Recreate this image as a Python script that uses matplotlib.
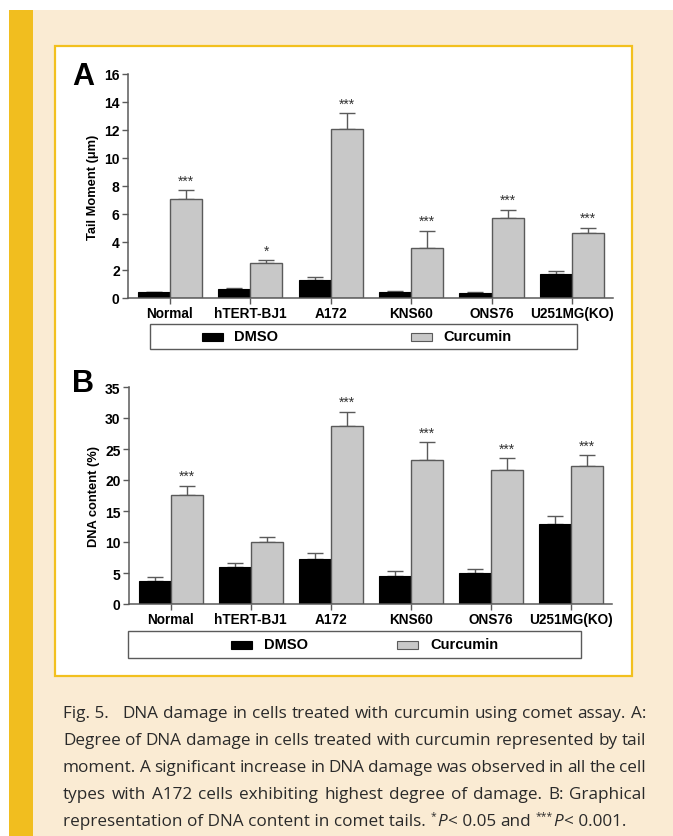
import matplotlib
matplotlib.use("Agg")
import matplotlib.pyplot as plt
from matplotlib.patches import Rectangle
import numpy as np

# data
cells = ["Normal", "hTERT-BJ1", "A172", "KNS60", "ONS76", "U251MG(KO)"]

tail_dmso = [0.4, 0.65, 1.3, 0.42, 0.38, 1.72]
tail_dmso_err = [0.05, 0.06, 0.2, 0.05, 0.06, 0.22]
tail_curc = [7.1, 2.5, 12.1, 3.55, 5.75, 4.65]
tail_curc_err = [0.6, 0.2, 1.1, 1.25, 0.55, 0.35]
tail_stars = ["***", "*", "***", "***", "***", "***"]

dna_dmso = [3.75, 6.0, 7.2, 4.5, 4.95, 12.85]
dna_dmso_err = [0.55, 0.65, 0.95, 0.75, 0.75, 1.4]
dna_curc = [17.6, 10.0, 28.65, 23.3, 21.65, 22.3]
dna_curc_err = [1.45, 0.85, 2.35, 2.8, 1.85, 1.7]
dna_stars = ["***", "", "***", "***", "***", "***"]

W, H = 673, 837
plt.rcParams['font.family'] = ['Liberation Sans', 'DejaVu Sans']
fig = plt.figure(figsize=(W / 100, H / 100), dpi=100, facecolor="white")


def fx(px):
    return px / W


def fy(py):
    return 1 - py / H


def frect(x0, y0, x1, y1, **kw):
    r = Rectangle((fx(x0), fy(y1)), fx(x1) - fx(x0), fy(y0) - fy(y1),
                  transform=fig.transFigure, **kw)
    fig.add_artist(r)
    return r


# page background, yellow strip, white panel
frect(33, 11, 673, 837, facecolor="#faebd3", edgecolor="none", zorder=-10)
frect(9, 11, 33, 837, facecolor="#f1be1f", edgecolor="none", zorder=-10)
frect(55, 47, 632, 677, facecolor="white", edgecolor="#f2c01e", lw=1.6, zorder=-9)

GRAY = "#5a5a5a"
CURC = "#c8c8c8"
x = np.arange(len(cells))
bw = 0.40


def panel(box, dmso, dmso_err, curc, curc_err, stars, ymax, step, ylabel, letter, letter_xy):
    left, top, right, bottom = box
    ax = fig.add_axes([fx(left), fy(bottom), fx(right) - fx(left), fy(top) - fy(bottom)])
    ax.bar(x - bw / 2, dmso, bw, color="black", edgecolor="black", lw=0.8, zorder=2)
    ax.bar(x + bw / 2, curc, bw, color=CURC, edgecolor=GRAY, lw=1.0, zorder=2)
    zeros = np.zeros(len(x))
    ax.errorbar(x - bw / 2, dmso, yerr=[zeros, dmso_err], fmt="none", ecolor=GRAY,
                elinewidth=1.0, capsize=6, capthick=1.0, zorder=1)
    ax.errorbar(x + bw / 2, curc, yerr=[zeros, curc_err], fmt="none", ecolor=GRAY,
                elinewidth=1.0, capsize=6, capthick=1.0, zorder=1)
    for xi, c, e, s in zip(x, curc, curc_err, stars):
        if s:
            ax.annotate(s, (xi + bw / 2, c + e), xytext=(0, 2), textcoords="offset points",
                        ha="center", va="bottom", fontsize=10, color="#333333")
    ax.set_xlim(-0.52, 5.51)
    ax.set_ylim(0, ymax)
    ax.set_yticks(np.arange(0, ymax + 0.1, step))
    ax.set_xticks(x)
    ax.set_xticklabels(cells, fontsize=9.8, fontweight="bold")
    for lab in ax.get_yticklabels():
        lab.set_fontweight("bold")
        lab.set_fontsize(10)
    ax.tick_params(axis="both", direction="out", length=4, width=1, color=GRAY, pad=2)
    ax.set_ylabel(ylabel, fontsize=9.3, fontweight="bold", labelpad=4)
    for sp in ["top", "right"]:
        ax.spines[sp].set_visible(False)
    for sp in ["left", "bottom"]:
        ax.spines[sp].set_color(GRAY)
        ax.spines[sp].set_linewidth(1.1)
    ax.set_facecolor("none")
    fig.text(fx(letter_xy[0]), fy(letter_xy[1]), letter, fontsize=22, fontweight="bold",
             ha="left", va="bottom")
    return ax


panel((128, 75, 613, 299), tail_dmso, tail_dmso_err, tail_curc, tail_curc_err, tail_stars,
      16, 2, "Tail Moment (\u03bcm)", "A", (72, 92))
panel((129, 388, 612, 605), dna_dmso, dna_dmso_err, dna_curc, dna_curc_err, dna_stars,
      35, 5, "DNA content (%)", "B", (72, 399))


def legend_box(box, p1, t1, p2, t2):
    x0, y0, x1, y1 = box
    frect(x0, y0, x1, y1, facecolor="white", edgecolor=GRAY, lw=1.0)
    yc = (y0 + y1) / 2
    frect(p1, yc - 4, p1 + 21, yc + 4, facecolor="black", edgecolor="black", lw=0.8)
    frect(p2, yc - 4, p2 + 21, yc + 4, facecolor=CURC, edgecolor=GRAY, lw=0.8)
    fig.text(fx(t1), fy(yc), "DMSO", fontsize=10.5, fontweight="bold", va="center")
    fig.text(fx(t2), fy(yc), "Curcumin", fontsize=10.5, fontweight="bold", va="center")


legend_box((150, 325, 577, 350), 202, 234, 411, 443)
legend_box((128, 632, 581, 659), 231, 264, 397, 430)

# caption, justified by hand
cap_font = dict(fontsize=12.3, color="#2a2a2a", family=["Open Sans", "DejaVu Sans"])
cap_lines = [
    "Fig.\u00a05.\u00a0\u00a0 DNA damage in cells treated with curcumin using comet assay. A:",
    "Degree of DNA damage in cells treated with curcumin represented by tail",
    "moment. A significant increase in DNA damage was observed in all the cell",
    "types with A172 cells exhibiting highest degree of damage. B: Graphical",
]
cap_x0, cap_x1 = 63, 646
cap_y = [714, 741, 768, 795, 822]

renderer = fig.canvas.get_renderer()


def width_of(t):
    return t.get_window_extent(renderer=renderer).width


for line, yy in zip(cap_lines, cap_y):
    words = line.split(" ")
    texts = [fig.text(0, fy(yy), w, va="center", ha="left", **cap_font) for w in words]
    widths = [width_of(t) for t in texts]
    gap = (cap_x1 - cap_x0 - sum(widths)) / (len(words) - 1)
    xx = cap_x0
    for t, w in zip(texts, widths):
        t.set_x(fx(xx))
        xx += w + gap

# last line with italic P and superscript stars
space = width_of(fig.text(0, 0, "a a", **cap_font)) - width_of(fig.text(0, 0, "aa", **cap_font))
for t in fig.texts[-2:]:
    t.remove()
last = [
    ("representation of DNA content in comet tails.", {}, True),
    ("*", {"fontsize": 7.5}, False),
    ("P", {"style": "italic"}, False),
    ("<\u00a00.05", {}, True),
    ("and", {}, True),
    ("***", {"fontsize": 7.5}, False),
    ("P", {"style": "italic"}, False),
    ("<\u00a00.001.", {}, False),
]
xx = cap_x0
for s, extra, add_space in last:
    kw = dict(cap_font)
    kw.update(extra)
    dy = -5 if s.startswith("*") else 0
    t = fig.text(fx(xx), fy(cap_y[4] + dy), s, va="center", ha="left", **kw)
    xx += width_of(t) + (space if add_space else 1)

fig.savefig("out.png", dpi=100, facecolor=fig.get_facecolor())
